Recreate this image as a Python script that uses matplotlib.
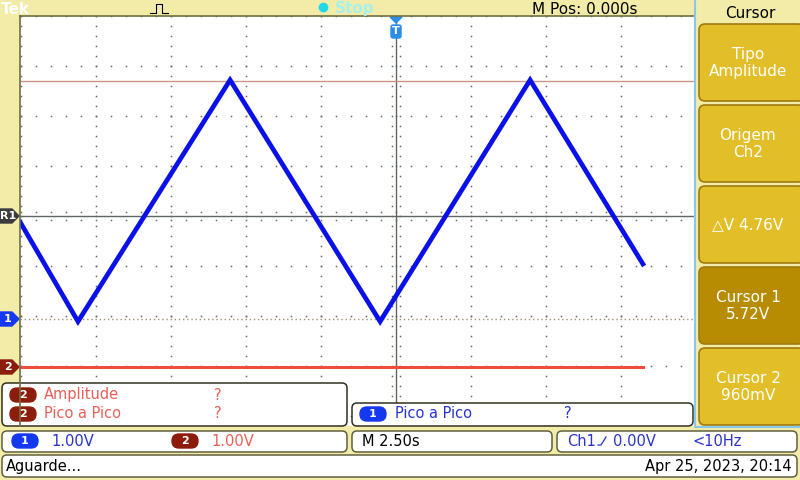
import numpy as np
import matplotlib.pyplot as plt
from matplotlib.patches import Rectangle, FancyBboxPatch, Polygon

#######################################################
# scope data (seconds, volts)
ch1_t = [-12.53, -10.6, -5.53, -0.53, 4.47, 8.23]
ch1_v = [1.94, -0.05, 4.78, -0.05, 4.78, 1.10]
ch2_t = [-12.53, 8.23]
ch2_v = [0.0, 0.0]

sec_div = 2.5      # M 2.50s
ch1_vdiv = 1.0     # 1.00V
ch2_vdiv = 1.0     # 1.00V
ch1_pos = -2.06    # ground marker, in divisions
ch2_pos = -3.02
cursor1 = 5.72     # V, origin Ch2
cursor2 = 0.96

menu_title = "Cursor"
menu_items = ["Tipo\nAmplitude", "Origem\nCh2", "\u25b3V 4.76V", "Cursor 1\n5.72V", "Cursor 2\n960mV"]
#######################################################

YEL = "#f2eca8"
GOLD = "#e2bf28"
GOLD_DK = "#b88c02"
BLUE = "#0a10e8"
RED_TXT = "#ea5f58"
BLUE_TXT = "#2a32cc"
DOT = "#666666"

fig = plt.figure(figsize=(8, 4.8), dpi=100)

# graticule: 75 px per horizontal div, 50 px per vertical div
ax = fig.add_axes([20/800, 64/480, 675/800, 400/480])
ax.set_xlim(-376/75, 299/75)
ax.set_ylim(-4, 4)
ax.axis("off")
ax.set_zorder(1)

dot = dict(ls="none", marker="s", ms=1.1, mew=0, color=DOT)
minor = np.arange(-25, 21) * 0.2
for yy in range(-4, 5):
    if yy == 0:
        continue
    ax.plot(minor, np.full_like(minor, yy), **dot)
vminor = np.arange(-20, 21) * 0.2
for xx in range(-5, 4):
    if xx == 0:
        continue
    ax.plot(np.full_like(vminor, xx), vminor, **dot)
# center cross with ticks
ax.axhline(0, color="#606660", lw=1.0)
ax.axvline(0, color="#606660", lw=1.0)
ax.plot(minor, np.full_like(minor, 0.08), **dot)
ax.plot(minor, np.full_like(minor, -0.08), **dot)
ax.plot(np.full_like(vminor, 0.055), vminor, **dot)
ax.plot(np.full_like(vminor, -0.055), vminor, **dot)

# cursors
ax.axhline(ch2_pos + cursor1 / ch2_vdiv, color="#c89484", lw=1.0)
ax.axhline(ch2_pos + cursor2 / ch2_vdiv, color="#a09070", lw=1.0, ls=(0, (1, 2)))

# traces
ax.plot(np.array(ch2_t) / sec_div, np.array(ch2_v) / ch2_vdiv + ch2_pos, color="#f04c3c", lw=2.2)
ax.plot(np.array(ch1_t) / sec_div, np.array(ch1_v) / ch1_vdiv + ch1_pos, color=BLUE, lw=3.4,
        solid_joinstyle="miter")

# user interface layer in pixel coordinates
ui = fig.add_axes([0, 0, 1, 1])
ui.set_xlim(0, 800)
ui.set_ylim(480, 0)
ui.axis("off")
ui.set_zorder(2)
ui.patch.set_alpha(0)

ui.add_patch(Rectangle((0, 0), 800, 16, color=YEL, lw=0))
ui.add_patch(Rectangle((0, 0), 20, 480, color=YEL, lw=0))
ui.add_patch(Rectangle((0, 426), 800, 54, color=YEL, lw=0))
ui.plot([20, 694], [16, 16], color="#707040", lw=1.2)
ui.plot([20, 20], [16, 426], color="#707040", lw=1.2)

# top bar
ui.text(1, 9, "Tek", color="white", fontsize=11, fontweight="bold", va="center", ha="left")
ui.plot([150, 156, 156, 162, 162, 168], [13, 13, 4, 4, 13, 13], color="black", lw=0.8)
ui.plot(323, 7, "o", color="#20d8e8", ms=6)
ui.text(335, 9, "Stop", color="#a8f0ec", fontsize=11, fontweight="bold", va="center", ha="left")
ui.text(585, 9, "M Pos: 0.000s", color="black", fontsize=11, va="center", ha="center")

# trigger marker
ui.add_patch(Polygon([[390, 17], [402, 17], [396, 23]], color="#2a8ee8"))
ui.add_patch(FancyBboxPatch((391, 25), 10, 13, boxstyle="round,pad=0,rounding_size=2",
                            color="#2a8ee8"))
ui.text(396, 31, "T", color="white", fontsize=8, fontweight="bold", ha="center", va="center")

# left channel tags
def side_tag(y, label, color):
    ui.add_patch(Polygon([[0, y - 7], [12, y - 7], [19, y], [12, y + 7], [0, y + 7]], color=color))
    ui.text(8, y, label, color="white", fontsize=8, fontweight="bold", ha="center", va="center")

side_tag(216, "R1", "#3c3c3c")
side_tag(216 - ch1_pos * 50, "1", "#1438f0")
side_tag(216 - ch2_pos * 50, "2", "#8c1c0c")

# right menu
ui.add_patch(Rectangle((694, 0), 106, 428, color=YEL, lw=0))
ui.plot([695, 695, 800], [0, 427, 427], color="#88c8f0", lw=1.5)
ui.text(750, 14, menu_title, color="black", fontsize=11, ha="center", va="center")
tops = [24, 105, 186, 267, 348]
for i, (top, txt) in enumerate(zip(tops, menu_items)):
    fc = GOLD_DK if i == 3 else GOLD
    ui.add_patch(FancyBboxPatch((699, top), 105, 77, boxstyle="round,pad=0,rounding_size=6",
                                fc=fc, ec="#a07a10", lw=1.2))
    ui.text(748, top + 39, txt, color="white", fontsize=11, ha="center", va="center",
            linespacing=1.15)

# bottom readouts
def box(x0, y0, x1, y1, ec="#303020"):
    ui.add_patch(FancyBboxPatch((x0, y0), x1 - x0, y1 - y0,
                                boxstyle="round,pad=0,rounding_size=5", fc="white", ec=ec, lw=1.1))

def pill(x, y, label, color):
    ui.add_patch(FancyBboxPatch((x, y - 7), 26, 14, boxstyle="round,pad=0,rounding_size=7",
                                color=color))
    ui.text(x + 13, y, label, color="white", fontsize=8, fontweight="bold", ha="center", va="center")

box(2, 383, 347, 426)
pill(10, 395, "2", "#8c1c0c")
pill(10, 414, "2", "#8c1c0c")
ui.text(44, 395, "Amplitude", color=RED_TXT, fontsize=10.5, va="center")
ui.text(44, 414, "Pico a Pico", color=RED_TXT, fontsize=10.5, va="center")
ui.text(218, 395, "?", color=RED_TXT, fontsize=10.5, va="center", ha="center")
ui.text(218, 414, "?", color=RED_TXT, fontsize=10.5, va="center", ha="center")

box(352, 403, 693, 426)
pill(360, 414, "1", "#1438f0")
ui.text(395, 414, "Pico a Pico", color=BLUE_TXT, fontsize=10.5, va="center")
ui.text(568, 414, "?", color=BLUE_TXT, fontsize=10.5, va="center", ha="center")

box(2, 431, 347, 452, ec="#606040")
pill(12, 441, "1", "#1438f0")
ui.text(51, 441, "1.00V", color=BLUE_TXT, fontsize=10.5, va="center")
pill(172, 441, "2", "#8c1c0c")
ui.text(211, 441, "1.00V", color=RED_TXT, fontsize=10.5, va="center")

box(352, 431, 552, 452, ec="#606040")
ui.text(362, 441, "M 2.50s", color="black", fontsize=10.5, va="center")

box(557, 431, 797, 452, ec="#606040")
ui.text(567, 441, "Ch1", color=BLUE_TXT, fontsize=10.5, va="center")
ui.plot([598, 601, 606], [445, 445, 437], color=BLUE_TXT, lw=0.9)
ui.text(613, 441, "0.00V", color=BLUE_TXT, fontsize=10.5, va="center")
ui.text(692, 441, "<10Hz", color=BLUE_TXT, fontsize=10.5, va="center")

box(2, 455, 797, 477, ec="#606040")
ui.text(6, 466, "Aguarde...", color="black", fontsize=10.5, va="center")
ui.text(792, 466, "Apr 25, 2023, 20:14", color="black", fontsize=10.5, va="center", ha="right")

plt.savefig("out.png", dpi=100)
